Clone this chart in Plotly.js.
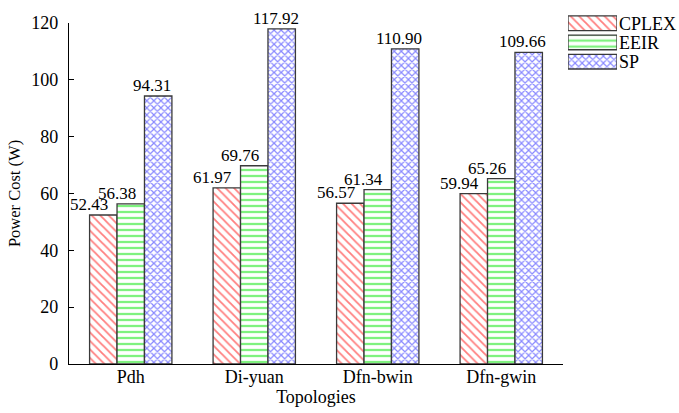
<!DOCTYPE html>
<html>
<head>
<meta charset="utf-8">
<script src="https://cdn.plot.ly/plotly-3.0.1.min.js"></script>
<style>
  html, body { margin: 0; padding: 0; background: #fff; }
  #chart { width: 679px; height: 413px; }
</style>
</head>
<body>
<div id="chart"></div>
<script>
// Power cost per topology for the three methods
const topologies = ['Pdh', 'Di-yuan', 'Dfn-bwin', 'Dfn-gwin'];
const seriesNames = ['CPLEX', 'EEIR', 'SP'];
const cplex = [52.43, 61.97, 56.57, 59.94];
const eeir = [56.38, 69.76, 61.34, 65.26];
const sp = [94.31, 117.92, 110.90, 109.66];
const yTicks = [0, 20, 40, 60, 80, 100, 120];

const serif = '"Liberation Serif", "Times New Roman", Times, serif';
const outline = '#3a3a3a';

// hatch styles for each method
const styles = [
  { shape: '\\', fg: '#ff0000', size: 6, solidity: 0.3 },
  { shape: '-',  fg: '#00e600', size: 6, solidity: 0.38 },
  { shape: 'x',  fg: '#1010ff', size: 5, solidity: 0.42 }
];
const values = [cplex, eeir, sp];
const labelShift = [-14, -14, -6];

const bargap = 1 / 3;
const barW = (1 - bargap) / seriesNames.length;

const traces = seriesNames.map((name, s) => ({
  type: 'bar',
  name: name,
  x: topologies.map((_, i) => i),
  y: values[s],
  xaxis: 'x',
  yaxis: 'y',
  showlegend: false,
  hoverinfo: 'skip',
  marker: {
    color: '#ffffff',
    line: { color: outline, width: 1.3 },
    pattern: {
      shape: styles[s].shape,
      fgcolor: styles[s].fg,
      bgcolor: '#ffffff',
      size: styles[s].size,
      solidity: styles[s].solidity,
      fillmode: 'overlay'
    }
  }
}));

// key swatches: one bar per method on a small side axis
const keyLength = seriesNames.map(() => 1);
traces.push({
  type: 'bar',
  orientation: 'h',
  y: seriesNames,
  x: keyLength,
  width: 0.76,
  xaxis: 'x2',
  yaxis: 'y2',
  showlegend: false,
  hoverinfo: 'skip',
  marker: {
    color: '#ffffff',
    line: { color: outline, width: 1.3 },
    pattern: {
      shape: styles.map(st => st.shape),
      fgcolor: styles.map(st => st.fg),
      bgcolor: '#ffffff',
      size: styles.map(st => st.size),
      solidity: styles.map(st => st.solidity),
      fillmode: 'overlay'
    }
  }
});

// value labels above the bars
const annotations = [];
seriesNames.forEach((name, s) => {
  values[s].forEach((v, i) => {
    annotations.push({
      x: i + (s - 1) * barW,
      y: v,
      xref: 'x',
      yref: 'y',
      text: v.toFixed(2),
      showarrow: false,
      xanchor: 'center',
      yanchor: 'bottom',
      xshift: labelShift[s],
      yshift: 0,
      borderpad: 0,
      font: { family: serif, size: 17, color: '#000' }
    });
  });
});

const layout = {
  width: 679,
  height: 413,
  margin: { l: 69, r: 10, t: 10, b: 49, pad: 0 },
  paper_bgcolor: '#fff',
  plot_bgcolor: '#fff',
  font: { family: serif, size: 18, color: '#000' },
  barmode: 'group',
  bargap: bargap,
  bargroupgap: 0,
  showlegend: false,
  xaxis: {
    domain: [0, 494 / 600],
    range: [-0.5, topologies.length - 0.5],
    tickmode: 'array',
    tickvals: topologies.map((_, i) => i),
    ticktext: topologies,
    ticks: '',
    showline: true,
    linecolor: '#000',
    linewidth: 1.2,
    showgrid: false,
    zeroline: false,
    ticklabelstandoff: -4,
    tickfont: { family: serif, size: 18 },
    title: { text: 'Topologies', font: { family: serif, size: 18 }, standoff: 0 }
  },
  yaxis: {
    domain: [0, 341 / 354],
    range: [0, 120],
    tickmode: 'array',
    tickvals: yTicks,
    ticks: 'inside',
    ticklen: 5,
    tickcolor: '#000',
    showline: true,
    linecolor: '#000',
    linewidth: 1.2,
    showgrid: false,
    zeroline: false,
    ticklabelstandoff: 6,
    tickfont: { family: serif, size: 18 },
    title: { text: 'Power Cost (W)', font: { family: serif, size: 16.5 }, standoff: 6 }
  },
  xaxis2: {
    domain: [499 / 600, 548 / 600],
    range: [0, 1],
    anchor: 'y2',
    visible: false,
    fixedrange: true
  },
  yaxis2: {
    domain: [1 - 61.3 / 354, 1 - 3.6 / 354],
    anchor: 'x2',
    side: 'right',
    type: 'category',
    range: [seriesNames.length - 0.5, -0.5],
    tickmode: 'array',
    tickvals: seriesNames,
    ticktext: seriesNames,
    ticks: '',
    showline: false,
    showgrid: false,
    zeroline: false,
    ticklabelstandoff: 1,
    tickfont: { family: serif, size: 18 },
    fixedrange: true
  },
  annotations: annotations
};

Plotly.newPlot('chart', traces, layout, { displayModeBar: false, staticPlot: true });
</script>
</body>
</html>
